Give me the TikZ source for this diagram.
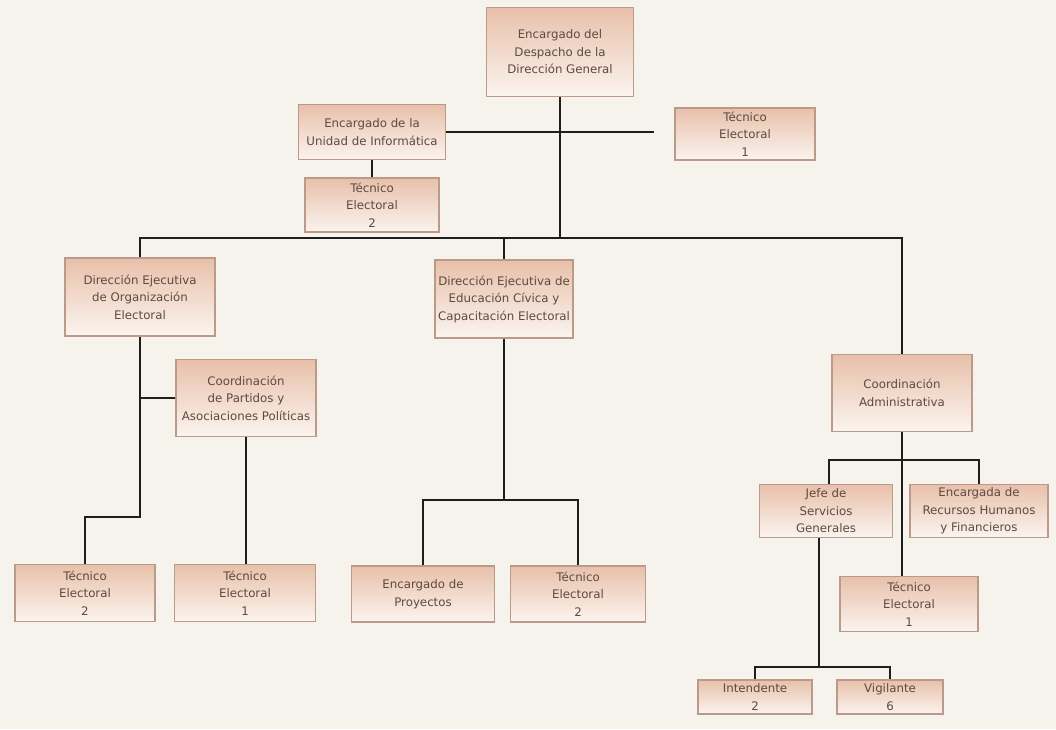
\documentclass[tikz,border=0pt]{standalone}
\usepackage{fontspec}
\setmainfont{DejaVu Sans}
\definecolor{bg}{HTML}{F6F2EC}
\definecolor{boxtop}{HTML}{E8C0AA}
\definecolor{boxbot}{HTML}{FBF4EF}
\definecolor{boxedge}{HTML}{BB9A8A}
\definecolor{txt}{HTML}{5E4A40}
\definecolor{wire}{HTML}{1E1E1E}
\begin{document}
\begin{tikzpicture}[x=1pt,y=-1pt,
  orgbox/.style={draw=boxedge, line width=1.4pt, top color=boxtop, bottom color=boxbot,
    align=center, text=txt, font=\fontsize{11.8}{17.5}\selectfont, inner sep=1pt},
  wirestyle/.style={draw=wire, line width=1.8pt}]
\fill[bg] (0,0) rectangle (1056,729);
\useasboundingbox (0,0) rectangle (1056,729);
% nodes
\node[orgbox, minimum width=147pt, minimum height=89pt] (top) at (560,52) {Encargado del\\Despacho de la\\Dirección General};
\node[orgbox, minimum width=147pt, minimum height=55pt] (inf) at (372,132) {Encargado de la\\Unidad de Informática};
\node[orgbox, minimum width=140pt, minimum height=52pt] (tea) at (745,134) {Técnico\\Electoral\\1};
\node[orgbox, minimum width=134pt, minimum height=54pt] (teb) at (372,205) {Técnico\\Electoral\\2};
\node[orgbox, minimum width=150pt, minimum height=78pt] (deoe) at (140,297) {Dirección Ejecutiva\\de Organización\\Electoral};
\node[orgbox, minimum width=138pt, minimum height=78pt] (dece) at (504,299) {Dirección Ejecutiva de\\Educación Cívica y\\Capacitación Electoral};
\node[orgbox, minimum width=140pt, minimum height=77pt] (cpap) at (246,398) {Coordinación\\de Partidos y\\Asociaciones Políticas};
\node[orgbox, minimum width=140pt, minimum height=77pt] (cadm) at (902,393) {Coordinación\\Administrativa};
\node[orgbox, minimum width=133pt, minimum height=53pt] (jsg) at (826,511) {Jefe de\\Servicios\\Generales};
\node[orgbox, minimum width=138pt, minimum height=53pt] (erh) at (979,511) {Encargada de\\Recursos Humanos\\y Financieros};
\node[orgbox, minimum width=138pt, minimum height=55pt] (tec) at (909,604) {Técnico\\Electoral\\1};
\node[orgbox, minimum width=140pt, minimum height=57pt] (ted) at (85,593) {Técnico\\Electoral\\2};
\node[orgbox, minimum width=141pt, minimum height=57pt] (tee) at (245,593) {Técnico\\Electoral\\1};
\node[orgbox, minimum width=143pt, minimum height=56pt] (ep) at (423,594) {Encargado de\\Proyectos};
\node[orgbox, minimum width=135pt, minimum height=56pt] (tef) at (578,594) {Técnico\\Electoral\\2};
\node[orgbox, minimum width=114pt, minimum height=34pt] (int) at (755,697) {Intendente\\2};
\node[orgbox, minimum width=106pt, minimum height=34pt] (vig) at (890,697) {Vigilante\\6};
% junction points
\coordinate (hA) at (560,238);
\coordinate (hB) at (140,517);
\coordinate (hC) at (504,500);
\coordinate (hD) at (902,460);
\coordinate (hE) at (819,667);
% connectors
\draw[wirestyle] (top.south) -- (hA);
\draw[wirestyle] (inf.east) -- ([xshift=-20pt]tea.west |- inf.east);
\draw[wirestyle] (inf.south) -- (teb.north);
\draw[wirestyle] (deoe.north) |- (hA);
\draw[wirestyle] (cadm.north) |- (hA);
\draw[wirestyle] (dece.north) -- (dece.north |- hA);
\draw[wirestyle] (deoe.south) -- (hB) -| (ted.north);
\draw[wirestyle] (cpap.west) -- (cpap.west -| deoe.south);
\draw[wirestyle] (cpap.south) -- (cpap.south |- tee.north);
\draw[wirestyle] (dece.south) -- (hC);
\draw[wirestyle] (ep.north) |- (hC) -| (tef.north);
\draw[wirestyle] (cadm.south) -- (cadm.south |- tec.north);
\draw[wirestyle] ([xshift=3pt]jsg.north) |- (hD) -| (erh.north);
\draw[wirestyle] (hE |- jsg.south) -- (hE);
\draw[wirestyle] (hE) -| (vig.north);
\draw[wirestyle] (hE) -| (int.north);
\end{tikzpicture}
\end{document}
